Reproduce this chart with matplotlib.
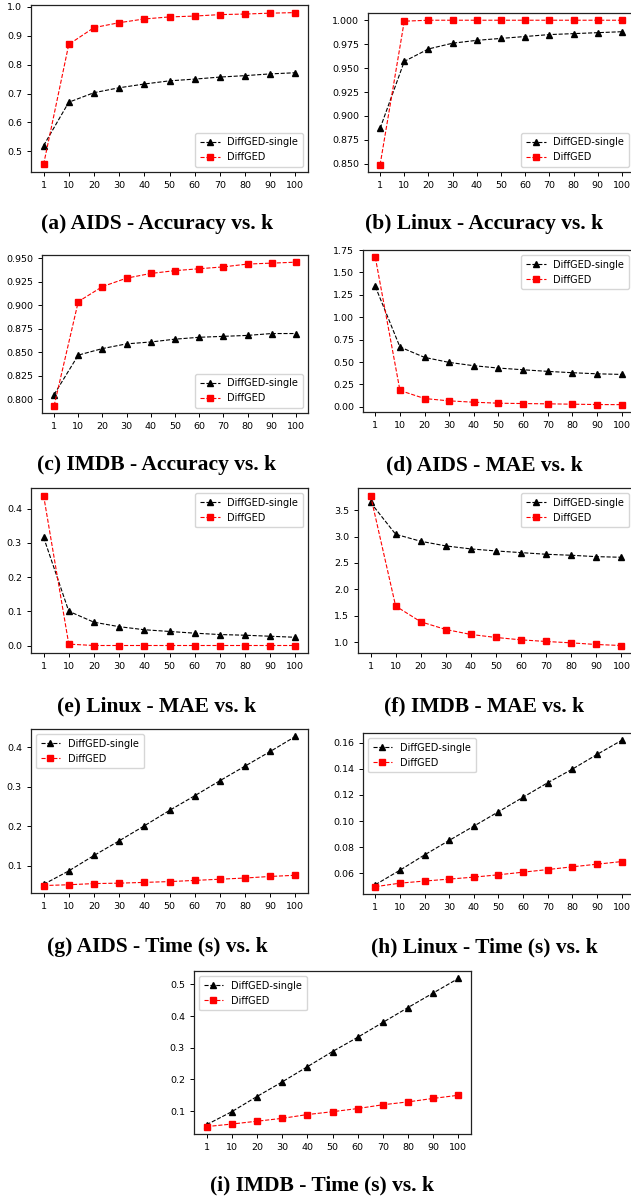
import matplotlib
matplotlib.use("Agg")
import matplotlib.pyplot as plt

k_labels = ["1", "10", "20", "30", "40", "50", "60", "70", "80", "90", "100"]

aids_acc_single = [0.520, 0.670, 0.703, 0.720, 0.733, 0.744, 0.750, 0.757, 0.762, 0.768, 0.772]
aids_acc_diff = [0.455, 0.870, 0.928, 0.945, 0.958, 0.965, 0.968, 0.973, 0.975, 0.978, 0.980]
linux_acc_single = [0.887, 0.957, 0.970, 0.976, 0.979, 0.981, 0.983, 0.985, 0.986, 0.987, 0.988]
linux_acc_diff = [0.849, 0.999, 1.000, 1.000, 1.000, 1.000, 1.000, 1.000, 1.000, 1.000, 1.000]
imdb_acc_single = [0.805, 0.847, 0.854, 0.859, 0.861, 0.864, 0.866, 0.867, 0.868, 0.870, 0.870]
imdb_acc_diff = [0.793, 0.904, 0.920, 0.929, 0.934, 0.937, 0.939, 0.941, 0.944, 0.945, 0.946]

aids_mae_single = [1.343, 0.668, 0.552, 0.496, 0.459, 0.433, 0.414, 0.396, 0.381, 0.369, 0.362]
aids_mae_diff = [1.668, 0.183, 0.093, 0.067, 0.052, 0.041, 0.037, 0.034, 0.030, 0.026, 0.025]
linux_mae_single = [0.316, 0.100, 0.068, 0.055, 0.046, 0.041, 0.036, 0.032, 0.030, 0.027, 0.024]
linux_mae_diff = [0.438, 0.004, 0.000, 0.000, 0.000, 0.000, 0.000, 0.000, 0.000, 0.000, 0.000]
imdb_mae_single = [3.646, 3.044, 2.911, 2.823, 2.766, 2.728, 2.696, 2.665, 2.646, 2.620, 2.608]
imdb_mae_diff = [3.778, 1.684, 1.386, 1.240, 1.146, 1.089, 1.044, 1.013, 0.987, 0.956, 0.937]

aids_time_single = [0.053, 0.087, 0.126, 0.163, 0.201, 0.240, 0.277, 0.315, 0.352, 0.389, 0.427]
aids_time_diff = [0.050, 0.052, 0.055, 0.056, 0.058, 0.060, 0.063, 0.066, 0.069, 0.073, 0.076]
linux_time_single = [0.0514, 0.0625, 0.0742, 0.0853, 0.0962, 0.1072, 0.1183, 0.1294, 0.1398, 0.1510, 0.1618]
linux_time_diff = [0.0499, 0.0526, 0.0542, 0.0557, 0.0572, 0.0590, 0.0610, 0.0630, 0.0651, 0.0671, 0.0691]
imdb_time_single = [0.057, 0.098, 0.146, 0.192, 0.240, 0.288, 0.333, 0.380, 0.427, 0.473, 0.519]
imdb_time_diff = [0.051, 0.059, 0.068, 0.077, 0.089, 0.098, 0.108, 0.120, 0.129, 0.140, 0.150]

W, H = 631, 1200
fig = plt.figure(figsize=(W / 100, H / 100), dpi=100)


def px_axes(left, top, right, bottom):
    return fig.add_axes([left / W, 1 - bottom / H, (right - left) / W, (bottom - top) / H])


# (axes box in pixels, caption centre x/y, series, legend loc, caption)
panels = [
    ((31, 5, 308, 172), (157, 224), aids_acc_single, aids_acc_diff, "lower right", "(a) AIDS - Accuracy vs. k"),
    ((368, 13, 634, 172), (484, 224), linux_acc_single, linux_acc_diff, "lower right", "(b) Linux - Accuracy vs. k"),
    ((42, 255, 308, 413), (157, 465), imdb_acc_single, imdb_acc_diff, "lower right", "(c) IMDB - Accuracy vs. k"),
    ((363, 250, 634, 412), (484, 465), aids_mae_single, aids_mae_diff, "upper right", "(d) AIDS - MAE vs. k"),
    ((31, 488, 308, 653), (157, 706), linux_mae_single, linux_mae_diff, "upper right", "(e) Linux - MAE vs. k"),
    ((358, 488, 634, 653), (484, 706), imdb_mae_single, imdb_mae_diff, "upper right", "(f) IMDB - MAE vs. k"),
    ((31, 729, 308, 893), (157, 947), aids_time_single, aids_time_diff, "upper left", "(g) AIDS - Time (s) vs. k"),
    ((363, 733, 634, 894), (484, 947), linux_time_single, linux_time_diff, "upper left", "(h) Linux - Time (s) vs. k"),
    ((194, 971, 471, 1134), (322, 1185), imdb_time_single, imdb_time_diff, "upper left", "(i) IMDB - Time (s) vs. k"),
]

for box, (cap_x, cap_y), single, diff, loc, caption in panels:
    ax = px_axes(*box)
    x = range(len(k_labels))
    ax.plot(x, single, color="black", linestyle="--", marker="^", markersize=5, linewidth=0.8, label="DiffGED-single")
    ax.plot(x, diff, color="red", linestyle="--", marker="s", markersize=5, linewidth=0.8, label="DiffGED")
    ax.set_xticks(list(x))
    ax.set_xticklabels(k_labels)
    ax.tick_params(labelsize=6.8, length=3, width=0.7)
    for s in ax.spines.values():
        s.set_linewidth(0.9)
        s.set_color("#222222")
    ax.legend(loc=loc, fontsize=7, handlelength=2, borderpad=0.5, labelspacing=0.5)
    fig.text(cap_x / W, 1 - cap_y / H, caption, ha="center", va="center",
             fontsize=15.5, fontweight="bold", family="Liberation Serif")

fig.savefig("out.png", dpi=100)
